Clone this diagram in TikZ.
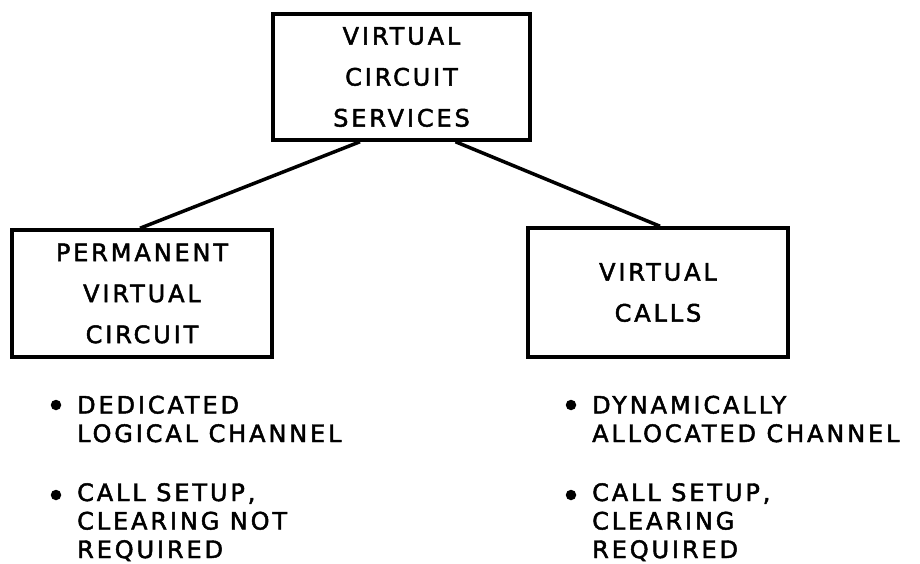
\documentclass[tikz,border=0pt]{standalone}
\usepackage{fontspec}
\setmainfont{DejaVu Sans}[LetterSpace=12, FakeBold=2]
\usetikzlibrary{calc}

\begin{document}
\begin{tikzpicture}[x=1pt,y=-1pt,
  box/.style={draw=black, line width=3.5pt, rectangle, align=center, inner sep=0pt,
    font=\fontsize{24}{41}\selectfont},
  note/.style={anchor=base west, align=left, inner sep=0pt,
    font=\fontsize{24}{28.5}\selectfont},
  dot/.style={circle, fill=black, inner sep=0pt, minimum size=10.5pt},
  link/.style={line width=3.5pt}]

% page frame
\fill[white] (0,0) rectangle (920,564);
\useasboundingbox (0,0) rectangle (920,564);

% boxes
\node[box, minimum width=257pt, minimum height=126pt] (vcs) at (401.5,77)
  {VIRTUAL\\CIRCUIT\\SERVICES};
\node[box, minimum width=260pt, minimum height=127pt] (pvc) at (142,293.5)
  {PERMANENT\\VIRTUAL\\CIRCUIT};
\node[box, minimum width=260pt, minimum height=129pt] (vcl) at (658,292.5)
  {VIRTUAL\\CALLS};

% connectors
\draw[link] ([xshift=-41.5pt]vcs.south) -- ([xshift=-2pt]pvc.north);
\draw[link] ([xshift=54pt]vcs.south) -- ([xshift=2pt]vcl.north);

% bullet lists (a multi-line node's base is the baseline of its last line)
\node[dot] (pb1) at (56,405) {};
\node[note] (pt1) at (77,442) {DEDICATED\\LOGICAL CHANNEL};
\node[dot] (pb2) at (56,495) {};
\node[note] (pt2) at (77,558) {CALL SETUP,\\CLEARING NOT\\REQUIRED};

\node[dot] (vb1) at (571,405) {};
\node[note] (vt1) at (592,442) {DYNAMICALLY\\ALLOCATED CHANNEL};
\node[dot] (vb2) at (571,495) {};
\node[note] (vt2) at (592,558) {CALL SETUP,\\CLEARING\\REQUIRED};
\end{tikzpicture}
\end{document}
